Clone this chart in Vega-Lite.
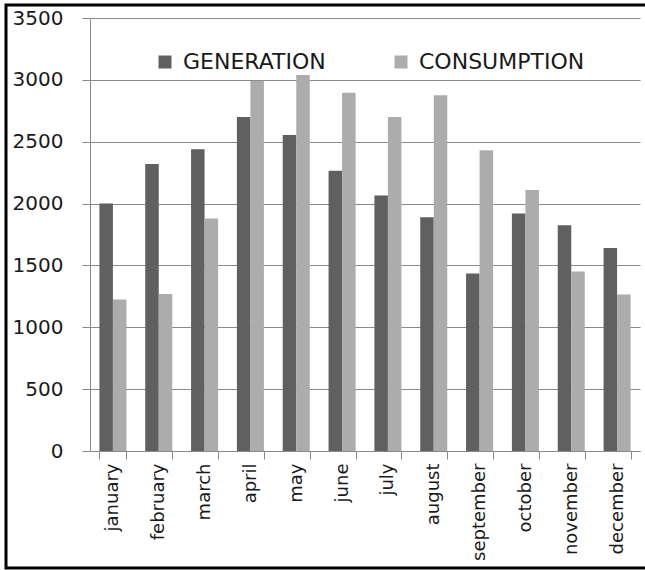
{
  "$schema": "https://vega.github.io/schema/vega-lite/v6.json",
  "autosize": "none",
  "padding": {"left": 6, "top": 5, "right": 0, "bottom": 2},
  "width": 720,
  "height": 563,
  "background": "white",
  "data": {
    "values": [
      {"month": "january", "series": "GENERATION", "value": 2000},
      {"month": "january", "series": "CONSUMPTION", "value": 1225},
      {"month": "february", "series": "GENERATION", "value": 2320},
      {"month": "february", "series": "CONSUMPTION", "value": 1270},
      {"month": "march", "series": "GENERATION", "value": 2440},
      {"month": "march", "series": "CONSUMPTION", "value": 1880},
      {"month": "april", "series": "GENERATION", "value": 2700},
      {"month": "april", "series": "CONSUMPTION", "value": 2990},
      {"month": "may", "series": "GENERATION", "value": 2555},
      {"month": "may", "series": "CONSUMPTION", "value": 3040},
      {"month": "june", "series": "GENERATION", "value": 2265},
      {"month": "june", "series": "CONSUMPTION", "value": 2895},
      {"month": "july", "series": "GENERATION", "value": 2065},
      {"month": "july", "series": "CONSUMPTION", "value": 2700},
      {"month": "august", "series": "GENERATION", "value": 1890},
      {"month": "august", "series": "CONSUMPTION", "value": 2875},
      {"month": "september", "series": "GENERATION", "value": 1435},
      {"month": "september", "series": "CONSUMPTION", "value": 2430},
      {"month": "october", "series": "GENERATION", "value": 1920},
      {"month": "october", "series": "CONSUMPTION", "value": 2110},
      {"month": "november", "series": "GENERATION", "value": 1825},
      {"month": "november", "series": "CONSUMPTION", "value": 1450},
      {"month": "december", "series": "GENERATION", "value": 1640},
      {"month": "december", "series": "CONSUMPTION", "value": 1265}
    ]
  },
  "mark": {"type": "bar"},
  "encoding": {
    "x": {
      "field": "month",
      "type": "nominal",
      "sort": null,
      "scale": {"range": [84, 634], "paddingInner": 0.41, "paddingOuter": 0.205},
      "axis": {
        "title": null,
        "offset": -117,
        "tickBand": "extent",
        "tickSize": 8,
        "tickColor": "#8a8a8a",
        "domainColor": "#8a8a8a",
        "labelAngle": -90,
        "labelAlign": "right",
        "labelBaseline": "middle",
        "labelPadding": 4,
        "labelFont": "DejaVu Sans",
        "labelFontSize": 18,
        "labelColor": "#1a1a1a",
        "grid": false
      }
    },
    "xOffset": {
      "field": "series",
      "type": "nominal",
      "sort": ["GENERATION", "CONSUMPTION"],
      "scale": {"paddingInner": 0, "paddingOuter": 0}
    },
    "y": {
      "field": "value",
      "type": "quantitative",
      "scale": {"domain": [0, 3500], "range": [446, 13]},
      "axis": {
        "title": null,
        "offset": -84,
        "format": "d",
        "values": [0, 500, 1000, 1500, 2000, 2500, 3000, 3500],
        "tickSize": 8,
        "tickColor": "#8a8a8a",
        "domainColor": "#8a8a8a",
        "gridColor": "#8a8a8a",
        "gridOpacity": 1,
        "labelPadding": 19,
        "labelFont": "DejaVu Sans",
        "labelFontSize": 20,
        "labelColor": "#1a1a1a"
      }
    },
    "color": {
      "field": "series",
      "type": "nominal",
      "sort": ["GENERATION", "CONSUMPTION"],
      "scale": {"domain": ["GENERATION", "CONSUMPTION"], "range": ["#606060", "#acacac"]},
      "legend": {
        "title": null,
        "orient": "none",
        "legendX": 148,
        "legendY": 46,
        "direction": "horizontal",
        "symbolType": "square",
        "symbolSize": 169,
        "symbolStrokeWidth": 0,
        "labelFont": "DejaVu Sans",
        "labelFontSize": 22,
        "labelLimit": 400,
        "labelColor": "#1a1a1a",
        "labelOffset": 7,
        "columnPadding": 64
      }
    }
  },
  "config": {
    "view": {"stroke": "#000000", "strokeWidth": 3},
    "axis": {"gridWidth": 1}
  }
}
